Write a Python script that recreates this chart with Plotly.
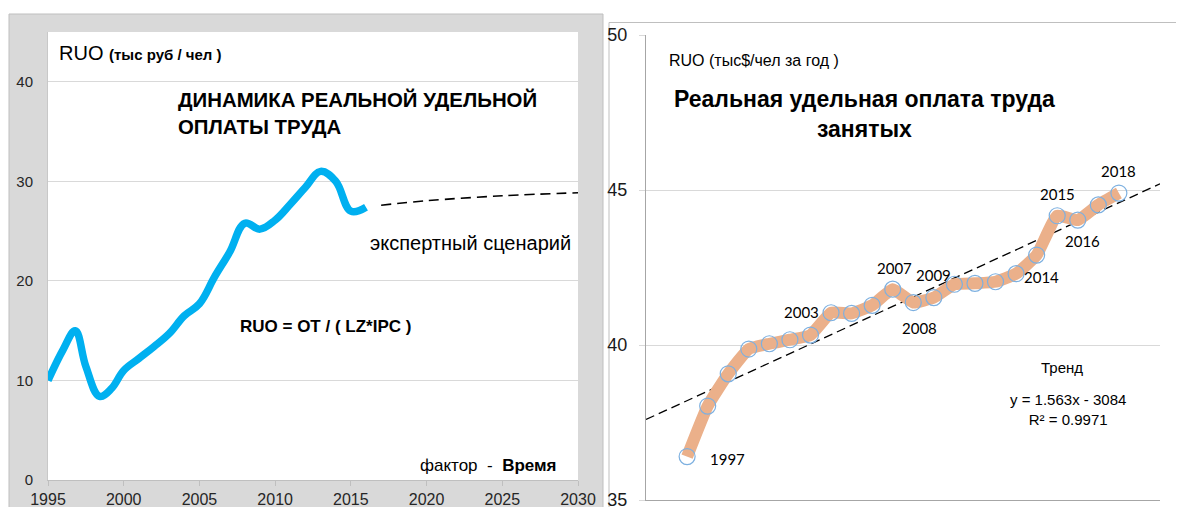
import numpy as np
import plotly.graph_objects as go

# page is 1184x507; the html body adds an 8px margin, so the figure is 8px smaller
OFF = 8
W, H = 1184 - OFF, 507 - OFF

# ---------------- Data ----------------
# Left panel: real specific labour pay, RUB thousand / person
left_years = [1995, 1996, 1996.8, 1997.5, 1998.4, 1999.2, 2000, 2001, 2002, 2003, 2004,
              2005, 2006, 2007, 2008, 2009, 2010, 2011, 2012, 2013, 2014, 2015, 2016]
left_values = [10.0, 13.1, 15.0, 11.4, 8.4, 9.2, 11.0, 12.2, 13.4, 14.7, 16.5,
               17.7, 20.4, 22.9, 25.8, 25.2, 26.1, 27.7, 29.4, 31.0, 30.0, 27.0, 27.4]
scenario_years = [2017, 2020, 2025, 2030]
scenario_values = [27.6, 28.05, 28.55, 28.85]
left_xticks = [1995, 2000, 2005, 2010, 2015, 2020, 2025, 2030]
left_yticks = [0, 10, 20, 30, 40]

# Right panel: real specific labour pay of employed, thousand $ / person / year
right_years = list(range(1997, 2019))
right_values = [36.40, 38.03, 39.07, 39.87, 40.04, 40.17, 40.32, 41.04, 41.02, 41.28, 41.80,
                41.37, 41.53, 41.96, 41.99, 42.04, 42.30, 42.90, 44.17, 44.03, 44.52, 44.90]
right_yticks = [35, 40, 45, 50]
labelled_years = [1997, 2003, 2007, 2008, 2009, 2014, 2015, 2016, 2018]
# pixel offsets of the year labels relative to their points (dx, dy up)
label_offsets = {1997: (40, -2), 2003: (-9, 23), 2007: (2, 21), 2008: (6, -25), 2009: (0, 23),
                 2014: (5, -22), 2015: (0, 22), 2016: (5, -21), 2018: (0, 22)}

# trend (least squares) over the right-panel data, drawn across the axis range
trend_x = [1995, 2020]
coef = np.polyfit(right_years, right_values, 1)
trend_y = [float(np.polyval(coef, v)) for v in trend_x]

# ---------------- Helpers (page pixel -> paper) ----------------
def px(x):
    return (x - OFF) / W

def py(y):
    return 1 - (y - OFF) / H

ARIAL = "Liberation Sans, Arial, sans-serif"

fig = go.Figure()

fig.add_trace(go.Scatter(x=left_years, y=left_values, mode="lines",
                         line=dict(color="#00B0F0", width=7.5, shape="spline", smoothing=1.1),
                         xaxis="x", yaxis="y", hoverinfo="skip"))
fig.add_trace(go.Scatter(x=scenario_years, y=scenario_values, mode="lines",
                         line=dict(color="#000000", width=1.6, dash="10px,6px", shape="spline"),
                         xaxis="x", yaxis="y", hoverinfo="skip"))

fig.add_trace(go.Scatter(x=trend_x, y=trend_y, mode="lines",
                         line=dict(color="#000000", width=1.3, dash="9px,5px"),
                         xaxis="x2", yaxis="y2", hoverinfo="skip"))
fig.add_trace(go.Scatter(x=right_years, y=right_values, mode="lines",
                         line=dict(color="#EBB08A", width=12, shape="spline", smoothing=0.4),
                         xaxis="x2", yaxis="y2", hoverinfo="skip"))
fig.add_trace(go.Scatter(x=right_years, y=right_values, mode="markers",
                         marker=dict(symbol="circle", size=16, color="rgba(0,0,0,0)",
                                     line=dict(color="#7DB0E0", width=1.2)),
                         xaxis="x2", yaxis="y2", hoverinfo="skip"))

shapes = [
    dict(type="rect", xref="paper", yref="paper", x0=px(9), x1=px(603), y0=-0.02, y1=py(14),
         fillcolor="#D9D9D9", line=dict(color="#BFBFBF", width=1), layer="below"),
    dict(type="rect", xref="x domain", yref="y domain", x0=0, x1=1, y0=0, y1=1,
         fillcolor="#FFFFFF", line=dict(width=0), layer="below"),
    dict(type="rect", xref="paper", yref="paper", x0=px(609), x1=1.02, y0=-0.02, y1=py(22.5),
         fillcolor="#FFFFFF", line=dict(color="#BFBFBF", width=1), layer="below"),
]

ann = []
# left panel texts
ann.append(dict(xref="paper", yref="paper", x=px(57), y=py(53), xanchor="left", yanchor="middle",
                text="RUO <b><span style='font-size:15px'>(тыс руб / чел )</span></b>",
                font=dict(family=ARIAL, size=20, color="#000"), showarrow=False))
ann.append(dict(xref="paper", yref="paper", x=px(176), y=py(113), xanchor="left", yanchor="middle",
                align="left", text="<b>ДИНАМИКА РЕАЛЬНОЙ УДЕЛЬНОЙ<br>ОПЛАТЫ ТРУДА</b>",
                font=dict(family=ARIAL, size=20.4, color="#000"), showarrow=False))
ann.append(dict(xref="paper", yref="paper", x=px(368), y=py(243), xanchor="left", yanchor="middle",
                text="экспертный сценарий", font=dict(family=ARIAL, size=20, color="#000"),
                showarrow=False))
ann.append(dict(xref="paper", yref="paper", x=px(238), y=py(326), xanchor="left", yanchor="middle",
                text="<b>RUO = OT / ( LZ*IPC )</b>", font=dict(family=ARIAL, size=17, color="#000"),
                showarrow=False))
ann.append(dict(xref="paper", yref="paper", x=px(418), y=py(465), xanchor="left", yanchor="middle",
                text="фактор\u00a0\u00a0-\u00a0\u00a0<b>Время</b>",
                font=dict(family=ARIAL, size=17, color="#000"), showarrow=False))

# right panel texts
ann.append(dict(xref="paper", yref="paper", x=px(667), y=py(60), xanchor="left", yanchor="middle",
                text="RUO (тыс$/чел за год )", font=dict(family=ARIAL, size=16, color="#000"),
                showarrow=False))
ann.append(dict(xref="paper", yref="paper", x=px(864), y=py(114), xanchor="center", yanchor="middle",
                align="center", text="<b>Реальная удельная оплата труда<br>занятых</b>",
                font=dict(family=ARIAL, size=23, color="#000"), showarrow=False))
ann.append(dict(xref="paper", yref="paper", x=px(1062), y=py(367), xanchor="center", yanchor="middle",
                text="Тренд", font=dict(family=ARIAL, size=15, color="#000"), showarrow=False))
ann.append(dict(xref="paper", yref="paper", x=px(1068), y=py(409), xanchor="center", yanchor="middle",
                align="center", text="y = 1.563x - 3084<br>R² = 0.9971",
                font=dict(family=ARIAL, size=15, color="#000"), showarrow=False))

for yr in labelled_years:
    v = right_values[right_years.index(yr)]
    dx, dy = label_offsets[yr]
    ann.append(dict(xref="x2", yref="y2", x=yr, y=v, xshift=dx, yshift=dy,
                    xanchor="center", yanchor="middle", text=str(yr),
                    font=dict(family="Lato, Open Sans, sans-serif", size=15, color="#000"),
                    showarrow=False))

fig.update_layout(
    template="none",
    width=W, height=H,
    autosize=False,
    margin=dict(l=0, r=0, t=0, b=0, pad=0),
    paper_bgcolor="#FFFFFF",
    plot_bgcolor="rgba(0,0,0,0)",
    showlegend=False,
    shapes=shapes,
    annotations=ann,
    xaxis=dict(domain=[px(48), px(578)], range=[1995, 2030], tickvals=left_xticks,
               automargin=False, ticklabeloverflow="allow",
               showgrid=False, zeroline=False, showline=True, linecolor="#BFBFBF", linewidth=1,
               ticks="outside", ticklen=5, tickcolor="#BFBFBF",
               tickfont=dict(family=ARIAL, size=16, color="#262626"), anchor="y", fixedrange=True),
    yaxis=dict(domain=[py(480), py(32)], range=[0, 45], tickvals=left_yticks,
               automargin=False, ticklabeloverflow="allow",
               showgrid=True, gridcolor="#D9D9D9", gridwidth=1, zeroline=False,
               showline=True, linecolor="#C8C8C8", linewidth=1,
               ticks="outside", ticklen=5, tickcolor="#D9D9D9",
               tickfont=dict(family=ARIAL, size=15, color="#262626"), anchor="x", fixedrange=True,
               ticklabelstandoff=6),
    xaxis2=dict(domain=[px(646), px(1160)], range=[1995, 2020], showticklabels=False,
                automargin=False,
                showgrid=False, zeroline=False, showline=True, linecolor="#A6A6A6", linewidth=1,
                ticks="", anchor="y2", fixedrange=True),
    yaxis2=dict(domain=[py(500), py(35)], range=[35, 50], tickvals=right_yticks,
                automargin=False, ticklabeloverflow="allow",
                showgrid=True, gridcolor="#D9D9D9", gridwidth=1, zeroline=False,
                showline=True, linecolor="#A6A6A6", linewidth=1,
                ticks="outside", ticklen=6, tickcolor="#D9D9D9",
                tickfont=dict(family=ARIAL, size=18, color="#1a1a1a"), anchor="x2", fixedrange=True,
                ticklabelstandoff=8),
)

fig.write_html("out.html", config={"responsive": False, "displayModeBar": False})
